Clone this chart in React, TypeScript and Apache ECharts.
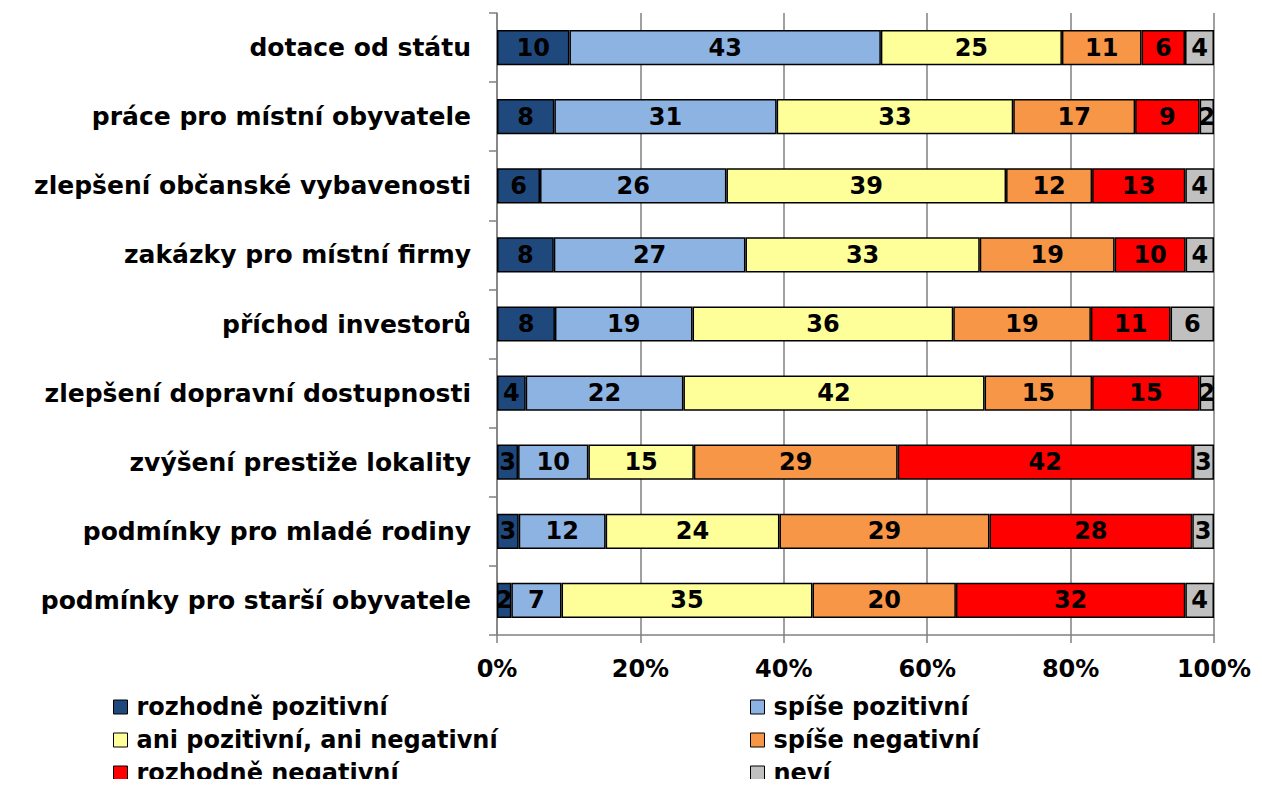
import React, { useEffect, useRef } from "react";
import * as echarts from "echarts";

const categories = [
  "dotace od státu",
  "práce pro místní obyvatele",
  "zlepšení občanské vybavenosti",
  "zakázky pro místní firmy",
  "příchod investorů",
  "zlepšení dopravní dostupnosti",
  "zvýšení prestiže lokality",
  "podmínky pro mladé rodiny",
  "podmínky pro starší obyvatele",
];

const seriesNames = [
  "rozhodně pozitivní",
  "spíše pozitivní",
  "ani pozitivní, ani negativní",
  "spíše negativní",
  "rozhodně negativní",
  "neví",
];

const rozhodnePozitivni = [10, 8, 6, 8, 8, 4, 3, 3, 2];
const spisePozitivni = [43, 31, 26, 27, 19, 22, 10, 12, 7];
const aniAni = [25, 33, 39, 33, 36, 42, 15, 24, 35];
const spiseNegativni = [11, 17, 12, 19, 19, 15, 29, 29, 20];
const rozhodneNegativni = [6, 9, 13, 10, 11, 15, 42, 28, 32];
const nevi = [4, 2, 4, 4, 6, 2, 3, 3, 4];

const xTickLabels = ["0%", "20%", "40%", "60%", "80%", "100%"];

const colors = ["#1F497D", "#8DB3E2", "#FFFF99", "#F79646", "#FF0000", "#C0C0C0"];

const FONT = "DejaVu Sans";

export default function App() {
  const ref = useRef<HTMLDivElement>(null);
  useEffect(() => {
    if (!ref.current) return;
    const chart = echarts.init(ref.current, undefined, { renderer: "svg" });
    const raw = [rozhodnePozitivni, spisePozitivni, aniAni, spiseNegativni, rozhodneNegativni, nevi];
    const totals = categories.map((_, i) => raw.reduce((s, arr) => s + arr[i], 0));
    const series = raw.map((arr, si) => ({
      name: seriesNames[si],
      type: "bar",
      stack: "total",
      barWidth: "51%",
      data: arr.map((v, i) => (v / totals[i]) * 100),
      itemStyle: { color: colors[si], borderColor: "#000", borderWidth: 1.5 },
      label: {
        show: true,
        position: "inside",
        color: "#000",
        fontFamily: FONT,
        fontWeight: "bold",
        fontSize: 24,
        formatter: (p: any) => String(arr[p.dataIndex]),
      },
    }));
    // legend layout: two columns, three rows
    const legendPos = [
      { left: 113, top: 695 },
      { left: 750, top: 695 },
      { left: 113, top: 728 },
      { left: 750, top: 728 },
      { left: 113, top: 761 },
      { left: 750, top: 761 },
    ];
    const legends = seriesNames.map((name, i) => ({
      ...legendPos[i],
      data: [name],
      padding: 0,
      itemWidth: 14,
      itemHeight: 14,
      icon: "rect",
      textStyle: {
        fontFamily: FONT,
        fontWeight: "bold",
        fontSize: 24,
        color: "#000",
        lineHeight: 24,
        padding: [0, 0, 0, 4],
      },
      itemStyle: { borderColor: "#000", borderWidth: 1 },
    }));
    chart.setOption({
      animation: false,
      grid: { left: 497, right: 48, top: 13, bottom: 152, containLabel: false },
      legend: legends,
      xAxis: {
        type: "value",
        min: 0,
        max: 100,
        interval: 20,
        axisLine: { show: true, lineStyle: { color: "#808080", width: 1.5 } },
        axisTick: { show: true, length: 8, lineStyle: { color: "#808080", width: 1.5 } },
        splitLine: { show: true, lineStyle: { color: "#808080", width: 1.5 } },
        axisLabel: {
          margin: 22,
          color: "#000",
          fontFamily: FONT,
          fontWeight: "bold",
          fontSize: 24,
          formatter: (v: number) => xTickLabels[Math.round(v / 20)],
        },
      },
      yAxis: {
        type: "category",
        inverse: true,
        data: categories,
        axisLine: { show: true, lineStyle: { color: "#808080", width: 1.5 } },
        axisTick: { show: true, length: 8, lineStyle: { color: "#808080", width: 1.5 } },
        axisLabel: {
          margin: 26,
          color: "#000",
          fontFamily: FONT,
          fontWeight: "bold",
          fontSize: 25,
        },
      },
      series,
    });
    return () => chart.dispose();
  }, []);
  return <div ref={ref} style={{ width: 1262, height: 787, margin: -8 }} />;
}
